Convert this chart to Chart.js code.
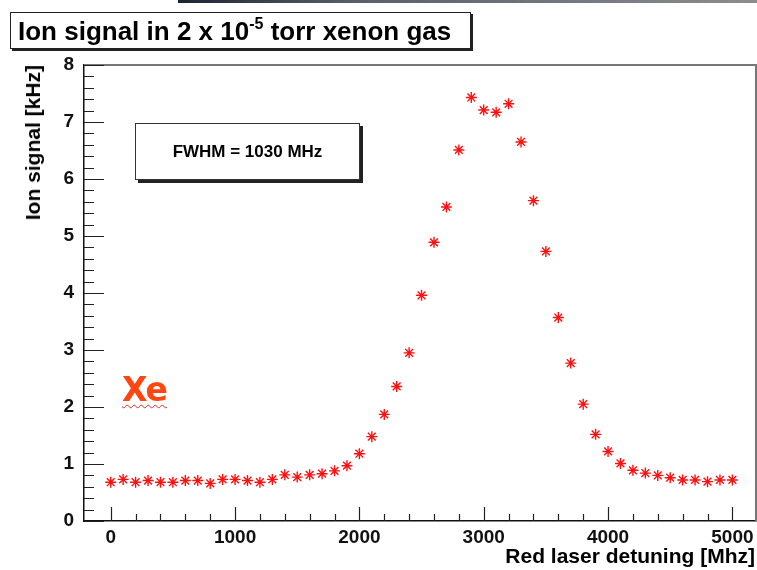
<!DOCTYPE html>
<html>
<head>
<meta charset="utf-8">
<script src="https://cdn.jsdelivr.net/npm/chart.js@4/dist/chart.umd.min.js"></script>
<style>
  html, body { margin: 0; padding: 0; background: #fff; }
  #wrap { position: relative; width: 757px; height: 570px; overflow: hidden;
          font-family: "Liberation Sans", Arial, sans-serif; }
  #c { position: absolute; left: 0; top: 0; }
  .topbar { position: absolute; left: 178px; top: 0; width: 579px; height: 3px;
            background: linear-gradient(90deg, #1d2433, #5a5f66 30%, #8a8e90); }
  .titlebox { position: absolute; left: 10px; top: 12px; width: 452px; height: 35px;
              border: 1px solid #222; box-shadow: 2px 2px 0 #222; background: #fff;
              font-weight: bold; font-size: 26px; line-height: 36px; padding-left: 7px;
              box-sizing: content-box; white-space: nowrap; }
  .titlebox sup { font-size: 16px; vertical-align: 0; position: relative; top: -11px; }
  .fwhm { position: absolute; left: 135px; top: 123px; width: 223px; height: 55px;
          border: 1px solid #333; box-shadow: 3px 3px 0 #222; background: #fff;
          font-weight: bold; font-size: 17px; line-height: 55px; text-align: center; }
  .ytitle { position: absolute; left: 22px; top: 65px; writing-mode: vertical-rl;
            transform: rotate(180deg); font-weight: bold; font-size: 21px; line-height: 22px;
            white-space: nowrap; }
  .xtitle { position: absolute; right: 2px; top: 544px; font-weight: bold; font-size: 21px;
            line-height: 24px; white-space: nowrap; }
  .xe { position: absolute; left: 122px; top: 370px; font-family: "DejaVu Sans", sans-serif;
        font-weight: bold; font-size: 33px; line-height: 40px; color: #ff4510;
        text-decoration: underline wavy #e03030; text-decoration-thickness: 1px;
        text-underline-offset: 3px; letter-spacing: -1px; }
</style>
</head>
<body>
<div id="wrap">
  <canvas id="c" width="757" height="570"></canvas>
  <div class="topbar"></div>
  <div class="titlebox">Ion signal in 2 x 10<sup>-5</sup> torr xenon gas</div>
  <div class="fwhm">FWHM = 1030 MHz</div>
  <div class="ytitle">Ion signal [kHz]</div>
  <div class="xtitle">Red laser detuning [Mhz]</div>
  <div class="xe">Xe</div>
</div>
<script>
// Red laser detuning in MHz
const detuning = [
  0, 100, 200, 300, 400, 500, 600, 700, 800, 900,
  1000, 1100, 1200, 1300, 1400, 1500, 1600, 1700, 1800, 1900,
  2000, 2100, 2200, 2300, 2400, 2500, 2600, 2700, 2800, 2900,
  3000, 3100, 3200, 3300, 3400, 3500, 3600, 3700, 3800, 3900,
  4000, 4100, 4200, 4300, 4400, 4500, 4600, 4700, 4800, 4900,
  5000
];
// Ion signal in kHz
const ionSignal = [
  0.68, 0.73, 0.68, 0.71, 0.68, 0.68, 0.71, 0.71, 0.66, 0.73,
  0.73, 0.71, 0.68, 0.73, 0.81, 0.77, 0.81, 0.83, 0.88, 0.97,
  1.18, 1.48, 1.87, 2.36, 2.95, 3.96, 4.89, 5.51, 6.51, 7.43,
  7.21, 7.17, 7.32, 6.65, 5.62, 4.73, 3.57, 2.77, 2.05, 1.52,
  1.22, 1.01, 0.89, 0.84, 0.80, 0.76, 0.72, 0.72, 0.69, 0.72,
  0.72
];
const xTickValues = [0, 1000, 2000, 3000, 4000, 5000];
const yTickValues = [0, 1, 2, 3, 4, 5, 6, 7, 8];

const points = detuning.map((x, i) => ({ x: x, y: ionSignal[i] }));

const tickFont = { family: 'Liberation Sans', weight: 'bold', size: 19 };

// Frame, inward-pointing major/minor ticks and x tick labels
const frameTicks = {
  id: 'frameTicks',
  afterDraw(chart) {
    const { ctx, chartArea: a, scales: { x, y } } = chart;
    ctx.save();
    ctx.strokeStyle = '#777';
    ctx.lineWidth = 2;
    ctx.beginPath();
    ctx.moveTo(a.left, a.top); ctx.lineTo(a.right, a.top); ctx.lineTo(a.right, a.bottom);
    ctx.stroke();
    ctx.strokeStyle = '#222';
    ctx.lineWidth = 1.2;
    ctx.beginPath();
    for (let v = xTickValues[0]; v <= xTickValues[xTickValues.length - 1]; v += 200) {
      const px = Math.round(x.getPixelForValue(v)) + 0.5;
      const len = (v % 1000 === 0) ? 14 : 7;
      ctx.moveTo(px, a.bottom); ctx.lineTo(px, a.bottom - len);
    }
    for (let k = 0; k <= 40; k++) {
      const v = k * 0.2;
      const py = Math.round(y.getPixelForValue(v)) + 0.5;
      const len = (k % 5 === 0) ? 20 : 10;
      ctx.moveTo(a.left, py); ctx.lineTo(a.left + len, py);
    }
    ctx.stroke();
    ctx.fillStyle = '#111';
    ctx.font = 'bold 19px "Liberation Sans", Arial, sans-serif';
    ctx.textAlign = 'center';
    ctx.textBaseline = 'top';
    xTickValues.forEach(v => {
      ctx.fillText(String(v), x.getPixelForValue(v), a.bottom + 7);
    });
    ctx.restore();
  }
};

new Chart(document.getElementById('c'), {
  type: 'scatter',
  data: {
    datasets: [{
      data: points,
      pointStyle: 'star',
      pointRadius: 5.5,
      pointHoverRadius: 5.5,
      borderColor: '#ff1010',
      backgroundColor: '#ff1010',
      borderWidth: 1.4,
      showLine: false
    }]
  },
  options: {
    responsive: false,
    animation: false,
    events: [],
    layout: { autoPadding: false, padding: { left: 0, top: 65, right: 1, bottom: 0 } },
    plugins: { legend: { display: false }, tooltip: { enabled: false } },
    scales: {
      x: {
        type: 'linear', min: -215, max: 5190,
        afterBuildTicks: s => { s.ticks = xTickValues.map(v => ({ value: v })); },
        afterFit: s => { s.height = 49; },
        grid: { display: false, drawTicks: false },
        border: { display: true, color: '#111', width: 1.5 },
        ticks: { display: false }
      },
      y: {
        type: 'linear', min: 0, max: 8,
        afterBuildTicks: s => { s.ticks = yTickValues.map(v => ({ value: v })); },
        afterFit: s => { s.width = 84; },
        grid: { display: false, drawTicks: false },
        border: { display: true, color: '#111', width: 1.5 },
        ticks: { padding: 10, color: '#111', autoSkip: false,
                 callback: v => String(v), font: tickFont }
      }
    }
  },
  plugins: [frameTicks]
});
</script>
</body>
</html>
